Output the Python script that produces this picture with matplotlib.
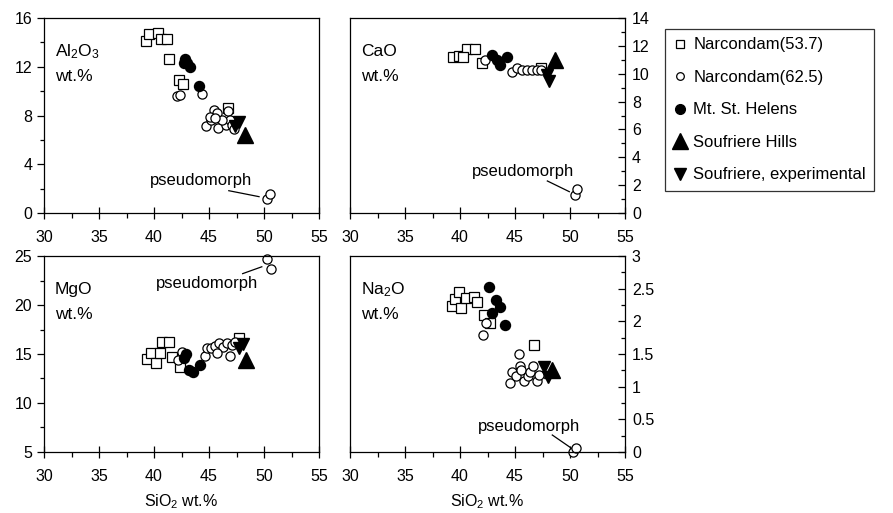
import matplotlib
matplotlib.use("Agg")
import matplotlib.pyplot as plt
from matplotlib.ticker import MultipleLocator, FuncFormatter
from matplotlib.lines import Line2D

plt.rcParams['font.family'] = ['Liberation Sans', 'DejaVu Sans']
plt.rcParams['mathtext.fontset'] = 'custom'
plt.rcParams['mathtext.rm'] = 'Liberation Sans'
plt.rcParams['mathtext.it'] = 'Liberation Sans'

# --- data (SiO2 wt.% vs oxide wt.%) ---
# Al2O3
al_sq_x = [39.3, 39.55, 40.4, 40.6, 41.2, 41.4, 42.3, 42.6, 46.7]
al_sq_y = [14.1, 14.7, 14.8, 14.25, 14.25, 12.6, 10.9, 10.55, 8.6]
al_oc_x = [42.06, 42.4, 44.4, 45.45, 45.7, 46.76, 44.7, 45.2, 45.1, 45.85, 46.5,
           46.9, 47.1, 47.3, 46.15, 45.55]
al_oc_y = [9.6, 9.7, 9.8, 8.45, 8.2, 8.4, 7.14, 7.6, 7.9, 7.0, 7.2, 7.65, 7.2, 6.9,
           7.6, 7.8]
al_ps_x = [50.3, 50.55]
al_ps_y = [1.12, 1.53]
al_fc_x = [42.8, 43.0, 43.3, 42.7, 44.1]
al_fc_y = [12.6, 12.3, 12.0, 12.3, 10.4]
al_up_x = [48.3]
al_up_y = [6.4]
al_dn_x = [47.7, 47.35]
al_dn_y = [7.5, 7.1]

# CaO
ca_sq_x = [39.4, 39.94, 40.6, 41.4, 40.3, 42.0, 47.4]
ca_sq_y = [11.2, 11.3, 11.8, 11.8, 11.2, 10.75, 10.4]
ca_oc_x = [42.3, 44.7, 45.15, 45.6, 46.06, 46.5, 47.0, 47.4]
ca_oc_y = [11.0, 10.15, 10.4, 10.25, 10.25, 10.25, 10.3, 10.25]
ca_ps_x = [50.45, 50.65]
ca_ps_y = [1.3, 1.7]
ca_fc_x = [42.9, 43.6, 44.3, 43.35]
ca_fc_y = [11.35, 10.6, 11.2, 11.0]
ca_up_x = [48.6]
ca_up_y = [11.0]
ca_dn_x = [48.1, 47.9]
ca_dn_y = [9.5, 9.9]

# MgO
mg_sq_x = [39.4, 39.7, 40.2, 40.5, 40.76, 41.4, 41.6, 42.4, 47.76]
mg_sq_y = [14.46, 15.1, 14.05, 15.1, 16.2, 16.2, 14.7, 13.7, 16.6]
mg_oc_x = [42.5, 42.2, 44.6, 44.8, 45.2, 45.5, 45.9, 46.3, 46.6, 47.1, 47.4, 46.9, 45.75]
mg_oc_y = [15.2, 14.4, 14.8, 15.65, 15.6, 15.85, 16.1, 15.7, 16.1, 15.9, 16.2, 14.8, 15.1]
mg_ps_x = [50.3, 50.6]
mg_ps_y = [24.66, 23.7]
mg_fc_x = [42.9, 43.5, 44.2, 42.7, 43.2]
mg_fc_y = [15.0, 13.2, 13.85, 14.6, 13.4]
mg_up_x = [48.4]
mg_up_y = [14.4]
mg_dn_x = [47.7, 48.1]
mg_dn_y = [15.6, 16.0]

# Na2O
na_sq_x = [39.24, 39.55, 39.94, 40.06, 40.55, 41.27, 41.5, 42.2, 42.7, 46.76]
na_sq_y = [2.235, 2.34, 2.45, 2.21, 2.35, 2.38, 2.30, 2.10, 1.97, 1.64]
na_oc_x = [42.4, 42.06, 45.4, 44.5, 44.7, 45.1, 45.45, 45.5, 45.8, 46.2, 46.4, 46.66,
           47.0, 47.2]
na_oc_y = [1.98, 1.79, 1.5, 1.06, 1.23, 1.17, 1.31, 1.25, 1.08, 1.16, 1.23, 1.31,
           1.09, 1.18]
na_ps_x = [50.24, 50.5]
na_ps_y = [0.0, 0.06]
na_fc_x = [42.6, 43.3, 43.6, 42.9, 44.1]
na_fc_y = [2.53, 2.32, 2.22, 2.12, 1.95]
na_up_x = [48.4]
na_up_y = [1.25]
na_dn_x = [48.0, 47.6]
na_dn_y = [1.15, 1.3]

labels = ['Narcondam(53.7)', 'Narcondam(62.5)', 'Mt. St. Helens',
          'Soufriere Hills', 'Soufriere, experimental']

W, H = 893, 513
fig = plt.figure(figsize=(W / 100, H / 100), dpi=100)


def px_axes(l, t, r, b):
    return fig.add_axes([l / W, 1 - b / H, (r - l) / W, (b - t) / H])


def draw(ax, sq, oc, ps, fc, up, dn):
    kw = dict(ls='none', clip_on=False)
    ax.plot(*sq, marker='s', ms=6.8, mfc='white', mec='black', mew=0.9, **kw)
    ax.plot(*oc, marker='o', ms=6.6, mfc='white', mec='black', mew=0.9, **kw)
    ax.plot(*ps, marker='o', ms=6.6, mfc='white', mec='black', mew=0.9, **kw)
    ax.plot(*fc, marker='o', ms=7.2, mfc='black', mec='black', **kw)
    ax.plot(*dn, marker='v', ms=9, mfc='black', mec='black', **kw)
    ax.plot(*up, marker='^', ms=11.5, mfc='black', mec='black', **kw)


def style(ax, ylim, major, minor, right=False, xlabel=False):
    ax.set_xlim(30, 55)
    ax.set_ylim(*ylim)
    ax.xaxis.set_major_locator(MultipleLocator(5))
    ax.xaxis.set_minor_locator(MultipleLocator(2.5))
    ax.yaxis.set_major_locator(MultipleLocator(major))
    ax.yaxis.set_minor_locator(MultipleLocator(minor))
    ax.yaxis.set_major_formatter(FuncFormatter(lambda v, p: f'{v:g}'))
    ax.tick_params(axis='x', which='major', direction='inout', length=9, width=0.9,
                   labelsize=11.5, pad=7.5)
    ax.tick_params(axis='x', which='minor', direction='out', length=3.5, width=0.9)
    if right:
        ax.yaxis.tick_right()
        ax.tick_params(axis='y', which='major', direction='in', length=5, width=0.9,
                       labelsize=11.5, pad=5)
        ax.tick_params(axis='y', which='minor', direction='in', length=3, width=0.9)
    else:
        ax.tick_params(axis='y', which='major', direction='out', length=5, width=0.9,
                       labelsize=11.5)
        ax.tick_params(axis='y', which='minor', direction='out', length=3, width=0.9)
    for s in ax.spines.values():
        s.set_linewidth(0.9)
    if xlabel:
        ax.set_xlabel('SiO$_2$ wt.%', fontsize=11.5, labelpad=6)


def panel_label(ax, name, x=0.04, y1=0.83, y2=0.70):
    ax.text(x, y1, name, transform=ax.transAxes, fontsize=12.5, va='center')
    ax.text(x, y2, 'wt.%', transform=ax.transAxes, fontsize=12.5, va='center')


def pseudo(ax, tx, ty, x0, y0, x1, y1):
    ax.text(tx, ty, 'pseudomorph', fontsize=12, ha='center', va='center')
    ax.plot([x0, x1], [y0, y1], color='black', lw=0.9)


ax1 = px_axes(44, 18, 319, 213)
draw(ax1, (al_sq_x, al_sq_y), (al_oc_x, al_oc_y), (al_ps_x, al_ps_y),
     (al_fc_x, al_fc_y), (al_up_x, al_up_y), (al_dn_x, al_dn_y))
style(ax1, (0, 16), 4, 2)
panel_label(ax1, 'Al$_2$O$_3$')
pseudo(ax1, 44.3, 2.7, 46.8, 1.83, 49.55, 1.34)

ax2 = px_axes(350, 18, 625, 213)
draw(ax2, (ca_sq_x, ca_sq_y), (ca_oc_x, ca_oc_y), (ca_ps_x, ca_ps_y),
     (ca_fc_x, ca_fc_y), (ca_up_x, ca_up_y), (ca_dn_x, ca_dn_y))
style(ax2, (0, 14), 2, 1, right=True)
panel_label(ax2, 'CaO')
pseudo(ax2, 45.7, 3.0, 47.94, 2.3, 49.94, 1.53)

ax3 = px_axes(44, 256, 319, 452)
draw(ax3, (mg_sq_x, mg_sq_y), (mg_oc_x, mg_oc_y), (mg_ps_x, mg_ps_y),
     (mg_fc_x, mg_fc_y), (mg_up_x, mg_up_y), (mg_dn_x, mg_dn_y))
style(ax3, (5, 25), 5, 2.5, xlabel=True)
panel_label(ax3, 'MgO')
pseudo(ax3, 44.8, 22.2, 48.06, 23.2, 49.8, 23.9)

ax4 = px_axes(350, 256, 625, 452)
draw(ax4, (na_sq_x, na_sq_y), (na_oc_x, na_oc_y), (na_ps_x, na_ps_y),
     (na_fc_x, na_fc_y), (na_up_x, na_up_y), (na_dn_x, na_dn_y))
style(ax4, (0, 3), 0.5, 0.25, right=True, xlabel=True)
panel_label(ax4, 'Na$_2$O')
pseudo(ax4, 46.3, 0.39, 48.39, 0.26, 50.06, 0.066)

handles = [
    Line2D([], [], ls='none', marker='s', ms=6, mfc='white', mec='black', mew=0.9),
    Line2D([], [], ls='none', marker='o', ms=5.5, mfc='white', mec='black', mew=0.9),
    Line2D([], [], ls='none', marker='o', ms=7, mfc='black', mec='black'),
    Line2D([], [], ls='none', marker='^', ms=12, mfc='black', mec='black'),
    Line2D([], [], ls='none', marker='v', ms=8, mfc='black', mec='black'),
]
leg = fig.legend(handles, labels, loc='upper left', bbox_to_anchor=(665 / W, 1 - 29 / H),
                 fontsize=12, frameon=True, fancybox=False, edgecolor='black',
                 handlelength=0.8, handletextpad=0.4, borderpad=0.5, labelspacing=1.05,
                 borderaxespad=0)
leg.get_frame().set_linewidth(0.9)

fig.savefig('out.png', dpi=100)
